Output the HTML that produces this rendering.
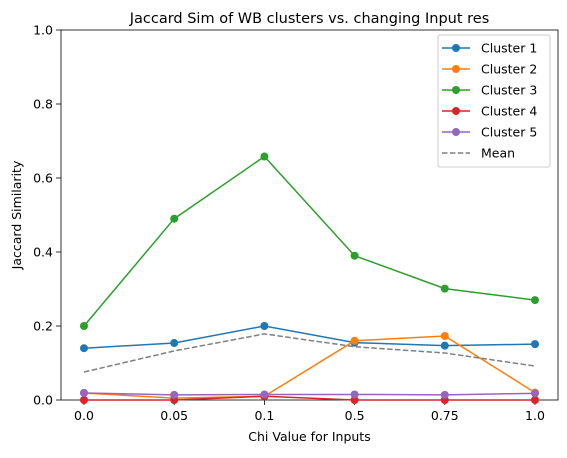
<!DOCTYPE html>
<html><head><meta charset="utf-8"><style>
body{margin:0;background:#fff;}
text{font-family:"DejaVu Sans","Liberation Sans",sans-serif;fill:#000;}
</style></head><body>
<svg id="chart" width="567" height="453" xmlns="http://www.w3.org/2000/svg"></svg>
<script>
const categories = ["0.0","0.05","0.1","0.5","0.75","1.0"];
const cluster1 = [0.14,0.154,0.2,0.155,0.147,0.151];
const cluster2 = [0.019,0.005,0.01,0.16,0.173,0.02];
const cluster3 = [0.2,0.49,0.658,0.39,0.301,0.27];
const cluster4 = [0.0,0.0,0.01,0.0,0.0,0.0];
const cluster5 = [0.019,0.014,0.015,0.015,0.014,0.018];
const yTicks = [0.0,0.2,0.4,0.6,0.8,1.0];
const seriesNames = ["Cluster 1","Cluster 2","Cluster 3","Cluster 4","Cluster 5"];
const seriesColors = ["#1f77b4","#ff7f0e","#2ca02c","#d62728","#9467bd"];

const svg = document.getElementById('chart');
const NS = "http://www.w3.org/2000/svg";
const L=61,R=558,T=30,B=400;
const xS = i => 84 + i*(535-84)/(categories.length-1);
const yS = v => B - v*(B-T);
function mk(tag, attrs, parent){const e=document.createElementNS(NS,tag);for(const k in attrs)e.setAttribute(k,attrs[k]);(parent||svg).appendChild(e);return e;}

const frame = mk('rect',{x:L,y:T,width:R-L,height:B-T,fill:'none',stroke:'#000','stroke-width':0.8});



categories.forEach((c,i)=>{
  const x=xS(i);
  const t=mk('line',{x1:x,x2:x,y1:B,y2:B+5,stroke:'#000','stroke-width':0.8});
  
  
  const tx=mk('text',{x:x,y:B+20,'text-anchor':'middle','font-size':12.5});
  tx.textContent=c;
  
  
});
yTicks.forEach(v=>{
  const y=yS(v);
  const t=mk('line',{x1:L-5,x2:L,y1:y,y2:y,stroke:'#000','stroke-width':0.8});
  
  
  const tx=mk('text',{x:L-8,y:y+4.5,'text-anchor':'end','font-size':12.5});
  tx.textContent=v.toFixed(1);
  
  
});

const allSeries=[cluster1,cluster2,cluster3,cluster4,cluster5];
const mean = categories.map((_,i)=>allSeries.reduce((s,a)=>s+a[i],0)/allSeries.length);

allSeries.forEach((arr,si)=>{
  const g=mk('g',{});
  
  
  const pl=mk('polyline',{points:arr.map((v,i)=>xS(i)+','+yS(v)).join(' '),fill:'none',stroke:seriesColors[si],'stroke-width':1.5},g);
  
  
  arr.forEach((v,i)=>{
    const c=mk('circle',{cx:xS(i),cy:yS(v),r:4,fill:seriesColors[si]},g);
    
    
  });
});
const ml=mk('polyline',{points:mean.map((v,i)=>xS(i)+','+yS(v)).join(' '),fill:'none',stroke:'#7f7f7f','stroke-width':1.5,'stroke-dasharray':'5.5,2.4'});



const title=mk('text',{x:(L+R)/2,y:23,'text-anchor':'middle','font-size':14.5});
title.textContent='Jaccard Sim of WB clusters vs. changing Input res';


const xt=mk('text',{x:(L+R)/2,y:441,'text-anchor':'middle','font-size':12.5});
xt.textContent='Chi Value for Inputs';


const yt=mk('text',{x:0,y:0,'text-anchor':'middle','font-size':12.5,transform:'translate(21,'+((T+B)/2)+') rotate(-90)'});
yt.textContent='Jaccard Similarity';



const lg=mk('g',{});


mk('rect',{x:438,y:35,width:112,height:132,rx:2,fill:'#fff',stroke:'#ccc','stroke-width':1,'fill-opacity':0.8},lg);
const names=seriesNames.concat(['Mean']);
names.forEach((n,i)=>{
  const y=48+i*21;
  const col=i<5?seriesColors[i]:'#7f7f7f';
  const ln=mk('line',{x1:442,x2:470,y1:y,y2:y,stroke:col,'stroke-width':1.5},lg);
  if(i===5) ln.setAttribute('stroke-dasharray','5.5,2.4');
  if(i<5) mk('circle',{cx:456,cy:y,r:4,fill:col},lg);
  const t=mk('text',{x:481,y:y+4.5,'font-size':12.5},lg);
  t.textContent=n;
  
  
});
</script>
</body></html>
